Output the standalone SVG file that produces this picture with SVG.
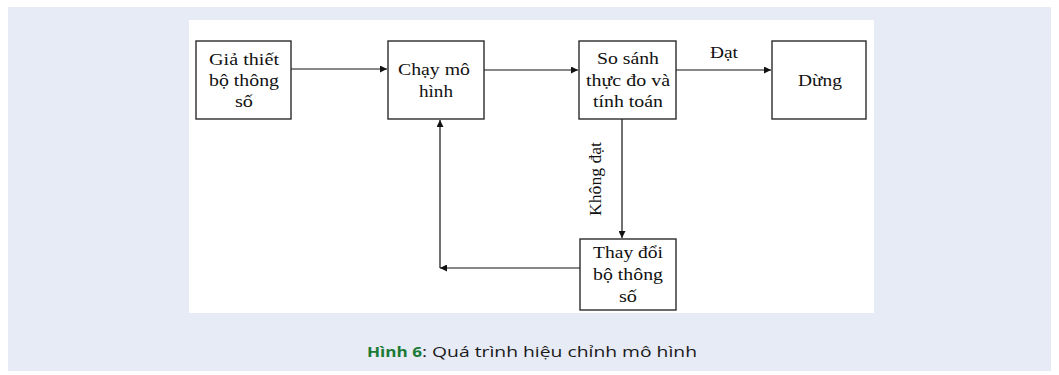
<svg xmlns="http://www.w3.org/2000/svg" width="1059" height="375" viewBox="0 0 1059 375">
  <style>
    .box { fill: #ffffff; stroke: #2b2b2b; stroke-width: 1.4; }
    .lbl { font-family: "Liberation Serif", "Times New Roman", serif; font-size: 17px; fill: #111; }
    .mid { text-anchor: middle; }
    .edge { fill: none; stroke: #111; stroke-width: 1.2; }
    .cap { font-family: "Open Sans", "Noto Sans", sans-serif; font-size: 14.5px; fill: #1a1a1a; }
    .capb { font-weight: bold; fill: #1b7a35; }
  </style>
  <defs>
    <marker id="arrow" viewBox="0 0 10 10" refX="10" refY="5" markerWidth="8" markerHeight="7" markerUnits="userSpaceOnUse" orient="auto">
      <path d="M0,0 L10,5 L0,10 Z" fill="#111"/>
    </marker>
  </defs>

  <!-- page background and figure panel -->
  <rect x="0" y="0" width="1059" height="375" fill="#ffffff"/>
  <rect x="8" y="7" width="1043" height="364" fill="#e7ebf5"/>
  <rect x="189" y="20" width="685" height="293" fill="#ffffff"/>

  <!-- connectors -->
  <g id="connectors">
    <line class="edge" x1="291" y1="69" x2="387" y2="69" marker-end="url(#arrow)"/>
    <line class="edge" x1="484" y1="70" x2="578" y2="70" marker-end="url(#arrow)"/>
    <line class="edge" x1="676" y1="70" x2="771" y2="70" marker-end="url(#arrow)"/>
    <text class="lbl" x="710" y="58" textLength="28" lengthAdjust="spacingAndGlyphs">Đạt</text>
    <line class="edge" x1="622" y1="119" x2="622" y2="238" marker-end="url(#arrow)"/>
    <text class="lbl mid" transform="translate(601,179) rotate(-90)" textLength="74" lengthAdjust="spacingAndGlyphs">Không đạt</text>
    <line class="edge" x1="580" y1="268" x2="440" y2="268" marker-end="url(#arrow)"/>
    <line class="edge" x1="440" y1="268" x2="440" y2="120" marker-end="url(#arrow)"/>
  </g>

  <!-- nodes -->
  <g id="node-gia-thiet">
    <rect class="box" x="196" y="41" width="95" height="78"/>
    <text class="lbl" x="209" y="65" textLength="70" lengthAdjust="spacingAndGlyphs">Giả thiết</text>
    <text class="lbl" x="209" y="86" textLength="70" lengthAdjust="spacingAndGlyphs">bộ thông</text>
    <text class="lbl" x="235" y="107" textLength="18" lengthAdjust="spacingAndGlyphs">số</text>
  </g>

  <g id="node-chay-mo-hinh">
    <rect class="box" x="388" y="41" width="96" height="78"/>
    <text class="lbl" x="398" y="75" textLength="72" lengthAdjust="spacingAndGlyphs">Chạy mô</text>
    <text class="lbl" x="419" y="97" textLength="34" lengthAdjust="spacingAndGlyphs">hình</text>
  </g>

  <g id="node-so-sanh">
    <rect class="box" x="579" y="41" width="97" height="78"/>
    <text class="lbl" x="597" y="64" textLength="62" lengthAdjust="spacingAndGlyphs">So sánh</text>
    <text class="lbl" x="586" y="86" textLength="84" lengthAdjust="spacingAndGlyphs">thực đo và</text>
    <text class="lbl" x="593" y="107" textLength="70" lengthAdjust="spacingAndGlyphs">tính toán</text>
  </g>

  <g id="node-dung">
    <rect class="box" x="772" y="41" width="94" height="78"/>
    <text class="lbl" x="798" y="86" textLength="44" lengthAdjust="spacingAndGlyphs">Dừng</text>
  </g>

  <g id="node-thay-doi">
    <rect class="box" x="580" y="239" width="96" height="71"/>
    <text class="lbl" x="593" y="258" textLength="70" lengthAdjust="spacingAndGlyphs">Thay đổi</text>
    <text class="lbl" x="593" y="280" textLength="70" lengthAdjust="spacingAndGlyphs">bộ thông</text>
    <text class="lbl" x="619" y="302" textLength="18" lengthAdjust="spacingAndGlyphs">số</text>
  </g>

  <!-- caption -->
  <g id="caption">
    <text class="cap capb" x="367" y="357" textLength="55" lengthAdjust="spacingAndGlyphs">Hình 6</text>
    <text class="cap" x="422" y="357" textLength="275" lengthAdjust="spacingAndGlyphs">: Quá trình hiệu chỉnh mô hình</text>
  </g>
</svg>
